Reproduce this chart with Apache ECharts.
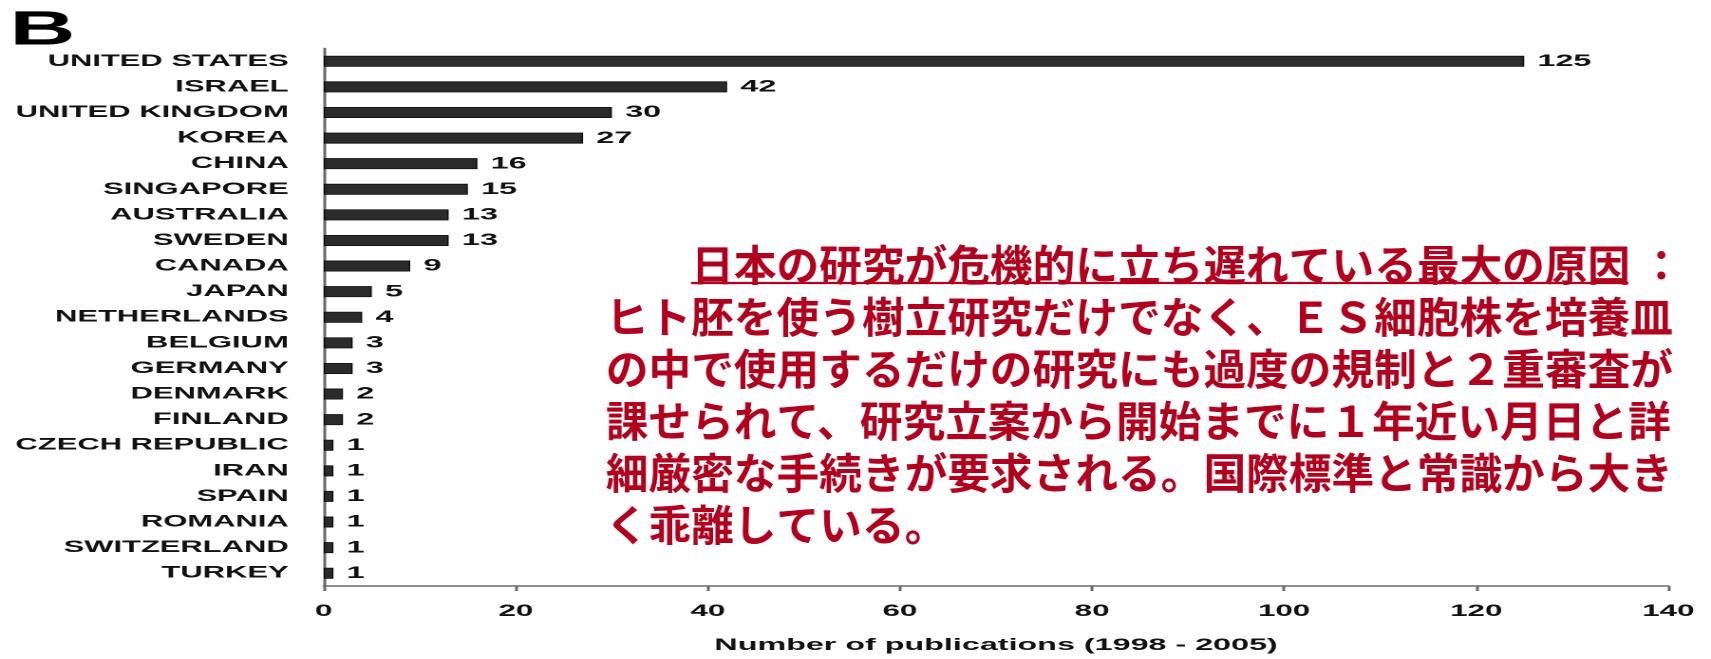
<!DOCTYPE html>
<html>
<head>
<meta charset="utf-8">
<script src="https://cdn.jsdelivr.net/npm/echarts@6/dist/echarts.min.js"></script>
<style>
  html, body { margin: 0; padding: 0; background: #fff; overflow: hidden; width: 1711px; height: 659px; }
  /* The figure is laid out on a narrower canvas and widened horizontally. */
  #chart { width: 901px; height: 659px; transform-origin: 0 0; }
</style>
</head>
<body>
<div id="chart"></div>
<script>
// Countries, top to bottom
const countries = [
  'UNITED STATES', 'ISRAEL', 'UNITED KINGDOM', 'KOREA', 'CHINA', 'SINGAPORE',
  'AUSTRALIA', 'SWEDEN', 'CANADA', 'JAPAN', 'NETHERLANDS', 'BELGIUM', 'GERMANY',
  'DENMARK', 'FINLAND', 'CZECH REPUBLIC', 'IRAN', 'SPAIN', 'ROMANIA',
  'SWITZERLAND', 'TURKEY'
];
// Publications per country, 1998 - 2005
const publications = [125, 42, 30, 27, 16, 15, 13, 13, 9, 5, 4, 3, 3, 2, 2, 1, 1, 1, 1, 1, 1];

// Value axis ticks
const xMin = 0;
const xMax = 140;
const xStep = 20;

const panelLetter = 'B';
const axisTitle = 'Number of publications (1998 - 2005)';

const noteLines = [
  '\u3000\u3000日本の研究が危機的に立ち遅れている最大の原因 ：',
  'ヒト胚を使う樹立研究だけでなく、ＥＳ細胞株を培養皿',
  'の中で使用するだけの研究にも過度の規制と２重審査が',
  '課せられて、研究立案から開始までに１年近い月日と詳',
  '細厳密な手続きが要求される。国際標準と常識から大き',
  'く乖離している。'
];

const PAGE_W = 1711;
const INNER_W = 901;
const S = PAGE_W / INNER_W;   // horizontal widening factor
const el = document.getElementById('chart');
el.style.transform = 'scaleX(' + S + ')';

const latin = '"Liberation Sans", Arial, Helvetica, sans-serif';
const cjk = '"Noto Sans CJK JP", "Noto Sans CJK SC", sans-serif';
const noteRed = '#b0001e';

const chart = echarts.init(el, null, { renderer: 'canvas', devicePixelRatio: 2 });

chart.setOption({
  animation: false,
  backgroundColor: '#fff',
  grid: { left: 170.5, right: 22.5, top: 48.5, bottom: 71 },
  xAxis: {
    type: 'value',
    min: xMin,
    max: xMax,
    interval: xStep,
    name: axisTitle,
    nameLocation: 'middle',
    nameGap: 51,
    nameTextStyle: { fontFamily: latin, fontWeight: 'bold', fontSize: 17, color: '#111' },
    axisLine: { show: true, lineStyle: { color: '#6a6a6a', width: 1.5 } },
    axisTick: { show: true, length: 5, inside: false, lineStyle: { color: '#6a6a6a', width: 1.5 } },
    axisLabel: { fontFamily: latin, fontWeight: 'bold', fontSize: 16.5, color: '#111', margin: 17 },
    splitLine: { show: false }
  },
  yAxis: {
    type: 'category',
    data: countries,
    inverse: true,
    axisLine: { show: true, lineStyle: { color: '#6a6a6a', width: 1.5 } },
    axisTick: { show: false },
    axisLabel: { fontFamily: latin, fontWeight: 'bold', fontSize: 16.3, color: '#111', margin: 18.5 },
    splitLine: { show: false }
  },
  series: [{
    type: 'bar',
    data: publications,
    barWidth: 11,
    itemStyle: { color: '#2b2b2b', borderColor: '#111', borderWidth: 0.8 },
    label: {
      show: true,
      position: 'right',
      distance: 7,
      fontFamily: latin,
      fontWeight: 'bold',
      fontSize: 17,
      color: '#111'
    }
  }],
  graphic: [
    {
      // panel letter
      type: 'text',
      x: 5,
      y: 31.5,
      style: {
        text: panelLetter,
        fontFamily: latin,
        fontWeight: 900,
        fontSize: 48,
        fill: '#000',
        verticalAlign: 'middle'
      }
    },
    {
      // Japanese commentary, kept at its natural proportions
      type: 'text',
      x: 319,
      y: 239,
      scaleX: 1 / S,
      style: {
        text: noteLines.join('\n'),
        fontFamily: cjk,
        fontWeight: 'bold',
        fontSize: 42.7,
        lineHeight: 52,
        fill: noteRed,
        verticalAlign: 'top',
        align: 'left'
      }
    },
    {
      // underline of the heading phrase
      type: 'line',
      shape: { x1: 363.8, y1: 283, x2: 857.5, y2: 283 },
      style: { stroke: noteRed, lineWidth: 2.2 }
    }
  ]
});
</script>
</body>
</html>
